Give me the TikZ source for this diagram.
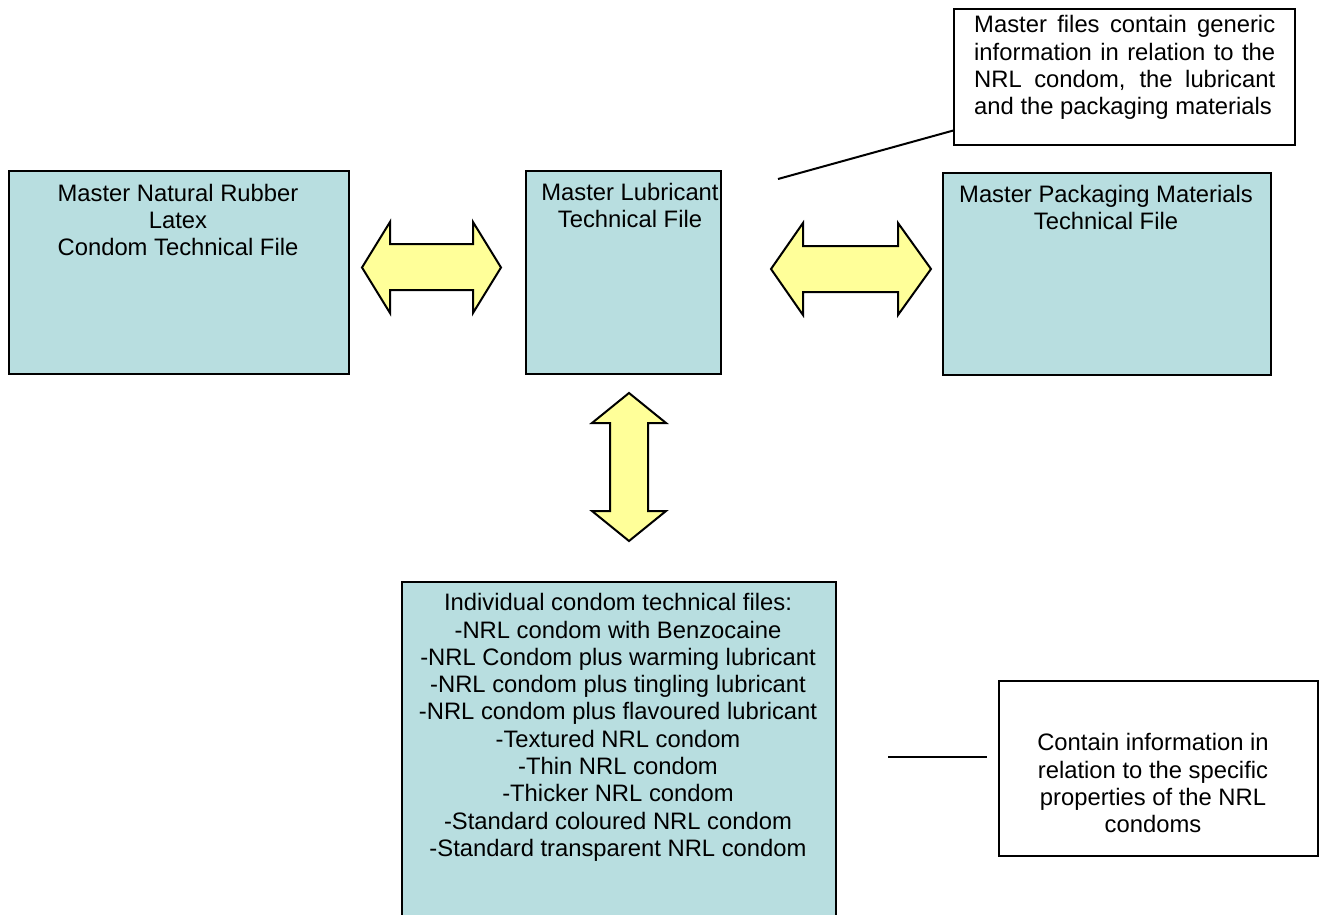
\documentclass[tikz,border=0pt]{standalone}
\usepackage{fontspec}
\setmainfont{Liberation Sans}
\usetikzlibrary{calc}
\definecolor{boxfill}{RGB}{184,222,224}
\definecolor{arrowfill}{RGB}{255,255,153}
\begin{document}
\begin{tikzpicture}[x=1pt,y=-1pt,
  every node/.style={font=\fontsize{23.8}{27.3}\selectfont},
  filebox/.style={draw=black, line width=1.6pt, fill=boxfill, rectangle, anchor=north west, inner sep=0pt},
  notebox/.style={draw=black, line width=1.6pt, fill=white, rectangle, anchor=north west, inner sep=0pt},
  txt/.style={anchor=base, inner sep=0pt},
  blockarrow/.style={draw=black, line width=2pt, fill=arrowfill, line join=miter},
  link/.style={draw=black, line width=2pt}]
\useasboundingbox (0,0) rectangle (1325,915);
\clip (0,0) rectangle (1325,915);
\fill[white] (0,0) rectangle (1325,915);

% boxes
\node[filebox, minimum width=340pt, minimum height=203pt] (A) at (8,170) {};
\node[filebox, minimum width=195pt, minimum height=203pt] (B) at (525,170) {};
\node[filebox, minimum width=328pt, minimum height=202pt] (C) at (942,172) {};
\node[filebox, minimum width=434pt, minimum height=350pt] (D) at (401,581) {};
\node[notebox, minimum width=341pt, minimum height=136pt] (N1) at (953,8) {};
\node[notebox, minimum width=319pt, minimum height=175pt] (N2) at (998,680) {};

% texts
\node[txt] (At) at (178,201) {\parbox[t]{330pt}{\centering Master Natural Rubber\\Latex\\Condom Technical File}};
\node[txt] (Bt) at (630,200) {\parbox[t]{260pt}{\centering Master Lubricant\\Technical File}};
\node[txt] (Ct) at (1106,202) {\parbox[t]{320pt}{\centering Master Packaging Materials\\Technical File}};
\node[txt] (Dt) at (618,610.7) {\parbox[t]{430pt}{\centering Individual condom technical files:\\
-NRL condom with Benzocaine\\
-NRL Condom plus warming lubricant\\
-NRL condom plus tingling lubricant\\
-NRL condom plus flavoured lubricant\\
-Textured NRL condom\\
-Thin NRL condom\\
-Thicker NRL condom\\
-Standard coloured NRL condom\\
-Standard transparent NRL condom}};
\node[txt, anchor=base west] (N1t) at (974,33) {\parbox[t]{301pt}{\hbadness=10000 Master files contain generic\linebreak information in relation to the\linebreak NRL condom, the lubricant\linebreak and the packaging materials}};
\node[txt] (N2t) at (1153,750.7) {\parbox[t]{310pt}{\centering Contain information in\\relation to the specific\\properties of the NRL\\condoms}};

% block arrows
\draw[blockarrow] (362,267.5) -- (390,222) -- (390,244) -- (473,244) -- (473,222) -- (501,267.5)
  -- (473,313) -- (473,290) -- (390,290) -- (390,313) -- cycle;
\draw[blockarrow] (771,269) -- (803,223) -- (803,246) -- (898,246) -- (898,223) -- (931,269)
  -- (898,315) -- (898,292) -- (803,292) -- (803,315) -- cycle;
\draw[blockarrow] (629,393) -- (666,423) -- (648,423) -- (648,511) -- (666,511) -- (629,541)
  -- (592,511) -- (610,511) -- (610,423) -- (592,423) -- cycle;

% callout lines
\coordinate (c1) at (778,179);
\draw[link] (c1) -- ($(N1.south west)+(0,-15)$);
\coordinate (c2a) at (888,757);
\coordinate (c2b) at (987,757);
\draw[link] (c2a) -- (c2b);
\end{tikzpicture}
\end{document}
